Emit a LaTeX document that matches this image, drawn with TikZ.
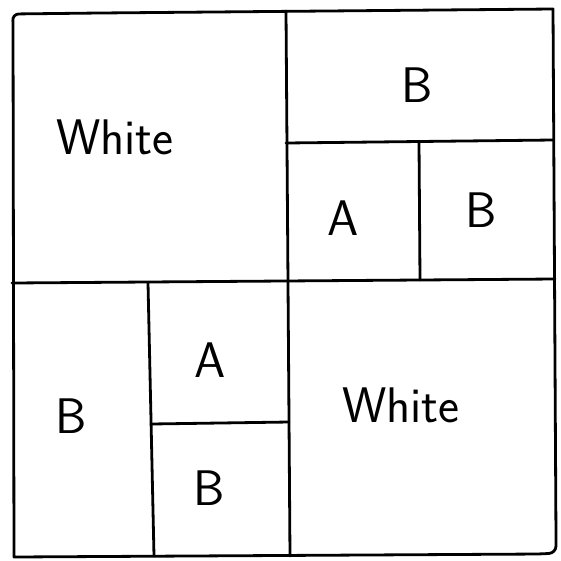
\documentclass[tikz,border=0pt]{standalone}
\usepackage{fontspec}
\begin{document}
\begin{tikzpicture}[x=1pt,y=-1pt,
  edge/.style={line width=2.8pt,line cap=round,line join=round},
  lbl/.style={font=\sffamily\fontsize{50}{56}\selectfont,inner sep=0pt}]
\useasboundingbox (0,0) rectangle (561,560);
% outer frame (top-left and bottom-right corners rounded)
\draw[edge] (13,22) [rounded corners=7pt] -- (12,14) -- (100,13) [sharp corners] -- (553,9) -- (556,540)
  [rounded corners=7pt] -- (556,553) -- (540,554) [sharp corners] -- (14,557) -- (13,22);
% main divisions
\draw[edge] (286,11) -- (290,556);
\draw[edge] (12,283) -- (555,279);
% top-right subdivisions
\draw[edge] (286,143) -- (553,140);
\draw[edge] (419,142) -- (420,280);
% bottom-left subdivisions
\draw[edge] (148,283) -- (154,556);
\draw[edge] (151,424) -- (289,422);
% labels
\node[lbl] (w1) at (115,137) {White};
\node[lbl] (b1) at (417,85) {B};
\node[lbl] (a1) at (343,218) {A};
\node[lbl] (b2) at (481,210) {B};
\node[lbl] (a2) at (210,360) {A};
\node[lbl] (b3) at (71,416) {B};
\node[lbl] (b4) at (209,488) {B};
\node[lbl] (w2) at (401,405) {White};
\end{tikzpicture}
\end{document}
